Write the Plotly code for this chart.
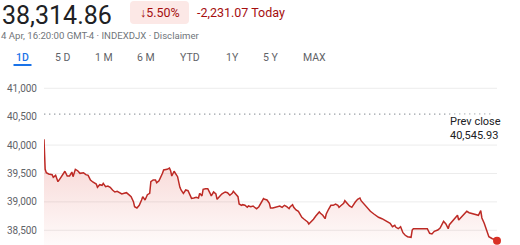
import datetime as dt
import plotly.graph_objects as go

# ---------------- data ----------------
session_date = "2024-04-04"
minutes_since_open = [
    0, 1, 2, 4, 7, 8, 10, 12, 14, 16, 18, 20, 22, 24, 25, 27, 29, 31, 34, 36, 38, 40, 42, 45, 46, 48,
    50, 51, 53, 55, 57, 59, 61, 63, 65, 67, 69, 71, 73, 75, 77, 78, 80, 82, 84, 85, 87, 89, 91, 92,
    94, 96, 97, 99, 102, 103, 106, 108, 109, 110, 112, 113, 115, 117, 118, 120, 122, 124, 125, 127,
    129, 131, 133, 134, 136, 137, 139, 141, 143, 144, 146, 148, 149, 151, 153, 155, 156, 158, 160,
    162, 163, 165, 167, 168, 170, 171, 173, 175, 176, 178, 180, 182, 183, 185, 187, 189, 190, 192,
    194, 195, 197, 199, 201, 203, 205, 207, 209, 211, 212, 214, 215, 217, 219, 220, 222, 224, 227,
    228, 230, 232, 234, 237, 238, 240, 242, 243, 245, 247, 249, 251, 253, 254, 256, 258, 259, 261,
    263, 265, 266, 268, 270, 272, 273, 275, 277, 279, 281, 284, 286, 288, 291, 293, 296, 298, 300,
    302, 303, 305, 307, 309, 311, 313, 316, 317, 318, 321, 324, 327, 330, 332, 334, 336, 339, 341,
    343, 344, 346, 348, 349, 352, 354, 356, 357, 359, 362, 364, 366, 368, 371, 374, 376, 377, 379,
    381, 383, 386, 388, 390,
]
index_values = [
    40102, 39574, 39514, 39491, 39479, 39433, 39468, 39356, 39415, 39474, 39539, 39456, 39456, 39526,
    39444, 39574, 39549, 39503, 39514, 39479, 39468, 39386, 39350, 39315, 39257, 39303, 39292, 39327,
    39268, 39280, 39257, 39210, 39174, 39186, 39162, 39139, 39151, 39162, 39127, 39092, 39004, 38915,
    38893, 38940, 39033, 39092, 39033, 39127, 39151, 39356, 39386, 39386, 39338, 39373, 39503, 39562,
    39574, 39597, 39549, 39456, 39539, 39503, 39444, 39257, 39210, 39151, 39210, 39197, 39151, 39063,
    39069, 39081, 39069, 39151, 39104, 39222, 39233, 39233, 39151, 39104, 39174, 39139, 39045, 39092,
    39139, 39162, 39174, 39162, 39116, 39151, 39186, 39139, 39092, 38963, 38940, 38951, 38940, 38905,
    38928, 38915, 38928, 38893, 38880, 38915, 38998, 39057, 39045, 39033, 38975, 38893, 38893, 38905,
    38915, 38928, 38905, 38940, 38915, 38880, 38915, 38951, 38905, 38857, 38834, 38799, 38729, 38694,
    38646, 38611, 38646, 38694, 38752, 38822, 38799, 38764, 38704, 38787, 38870, 38940, 38940, 38963,
    38940, 38905, 38940, 38975, 39021, 38975, 38928, 38905, 38940, 38998, 39046, 39069, 39021, 38975,
    38928, 38880, 38834, 38787, 38752, 38729, 38704, 38681, 38658, 38623, 38563, 38588, 38553, 38528,
    38563, 38458, 38412, 38387, 38377, 38505, 38528, 38528, 38540, 38540, 38528, 38447, 38435, 38482,
    38505, 38540, 38611, 38658, 38611, 38528, 38599, 38669, 38717, 38764, 38681, 38729, 38799, 38834,
    38810, 38799, 38775, 38764, 38845, 38717, 38623, 38505, 38387, 38352, 38342, 38314.86,
]
prev_close = 40545.93
last_price = "38,314.86"
change_pct = "↓5.50%"
change_abs = "-2,231.07 Today"
subtitle = "4 Apr, 16:20:00 GMT-4 · INDEXDJX · Disclaimer"
range_tabs = ["1D", "5 D", "1 M", "6 M", "YTD", "1Y", "5 Y", "MAX"]
y_ticks = [38500, 39000, 39500, 40000, 40500, 41000]
grid_values = [38500, 39000, 39500, 40000, 41000]

# ---------------- build ----------------
open_time = dt.datetime.fromisoformat(session_date + " 09:30")
close_time = dt.datetime.fromisoformat(session_date + " 16:00")
times = [open_time + dt.timedelta(minutes=m) for m in minutes_since_open]

W, H = 520, 245
ML, MR, MT, MB = 44, 23, 80, 0
PW, PH = W - ML - MR, H - MT - MB
Y_LO, Y_HI = 38241, 41146


def px(x):
    return (x - ML) / PW


def py(y):
    return (H - MB - y) / PH


FONT = "Roboto, Arial, sans-serif"
RED_LINE = "#bd2a25"

fig = go.Figure()
fig.add_trace(go.Scatter(
    x=times, y=index_values, mode="lines",
    line=dict(color=RED_LINE, width=1.5),
    fill="tozeroy",
    fillgradient=dict(
        type="vertical",
        colorscale=[[0, "rgba(217,48,37,0.02)"], [1, "rgba(217,48,37,0.22)"]],
        start=Y_LO, stop=40100,
    ),
    hoverinfo="skip", showlegend=False,
))
fig.add_trace(go.Scatter(
    x=[times[-1]], y=[index_values[-1]], mode="markers",
    marker=dict(color="#d93025", size=8),
    hoverinfo="skip", showlegend=False, cliponaxis=False,
))

shapes = []
for g in grid_values:
    shapes.append(dict(type="line", xref="paper", yref="y", x0=0, x1=1, y0=g, y1=g,
                       line=dict(color="#ececec", width=1), layer="below"))
shapes.append(dict(type="line", xref="paper", yref="y", x0=0, x1=0.99, y0=prev_close, y1=prev_close,
                   line=dict(color="#9aa0a6", width=1.4, dash="1.4px,3.6px"), layer="below"))

# pill behind change percentage (rounded rect as path)
x0p, x1p = px(130), px(189)
y0p, y1p = py(24), py(1)
r = 4
rx, ry = r / PW, r / PH
pill = (f"M {x0p+rx},{y1p} L {x1p-rx},{y1p} Q {x1p},{y1p} {x1p},{y1p-ry} "
        f"L {x1p},{y0p+ry} Q {x1p},{y0p} {x1p-rx},{y0p} L {x0p+rx},{y0p} "
        f"Q {x0p},{y0p} {x0p},{y0p+ry} L {x0p},{y1p-ry} Q {x0p},{y1p} {x0p+rx},{y1p} Z")
shapes.append(dict(type="path", xref="paper", yref="paper", path=pill,
                   fillcolor="#fce8e6", line=dict(width=0)))

# tab underline
shapes.append(dict(type="line", xref="paper", yref="paper", x0=px(13.5), x1=px(31.5),
                   y0=py(65), y1=py(65), line=dict(color="#1a73e8", width=2)))

annotations = [
    dict(text=last_price, x=px(0.5), y=py(0), xanchor="left", yanchor="top",
         font=dict(family=FONT, size=25, color="#202124")),
    dict(text=change_pct, x=px(160), y=py(12.5), xanchor="center", yanchor="middle",
         font=dict(family=FONT, size=12.5, color="#a50e0e")),
    dict(text=change_abs, x=px(196), y=py(12.5), xanchor="left", yanchor="middle",
         font=dict(family=FONT, size=12.5, color="#a50e0e")),
    dict(text=subtitle, x=px(0), y=py(35), xanchor="left", yanchor="middle",
         font=dict(family=FONT, size=9.6, color="#70757a")),
    dict(text="Prev close<br>" + f"{prev_close:,.2f}", x=px(449), y=py(128.5),
         xanchor="left", yanchor="middle", align="left", bgcolor="white",
         font=dict(family=FONT, size=11, color="#202124")),
]
tab_centers = [22.5, 63, 104, 146, 190, 232, 271, 314.5]
for lab, cx in zip(range_tabs, tab_centers):
    annotations.append(dict(
        text=lab, x=px(cx), y=py(57.5), xanchor="center", yanchor="middle",
        font=dict(family=FONT, size=10.5, color="#1a73e8" if lab == "1D" else "#5f6368",
                  weight=500 if lab == "1D" else 400)))
for a in annotations:
    a.update(xref="paper", yref="paper", showarrow=False)
    a.setdefault("borderpad", 0)

fig.update_layout(
    width=W, height=H,
    margin=dict(l=ML, r=MR, t=MT, b=MB, pad=0),
    paper_bgcolor="white", plot_bgcolor="white",
    xaxis=dict(range=[open_time, close_time], visible=False, showgrid=False, fixedrange=True),
    yaxis=dict(range=[Y_LO, Y_HI], tickvals=y_ticks, tickformat=",", showgrid=False,
               zeroline=False, showline=False, ticks="", ticklabelstandoff=6,
               tickfont=dict(family=FONT, size=10, color="#5f6368")),
    shapes=shapes, annotations=annotations,
    font=dict(family=FONT),
)

fig.write_html("out.html", config={"displayModeBar": False})
